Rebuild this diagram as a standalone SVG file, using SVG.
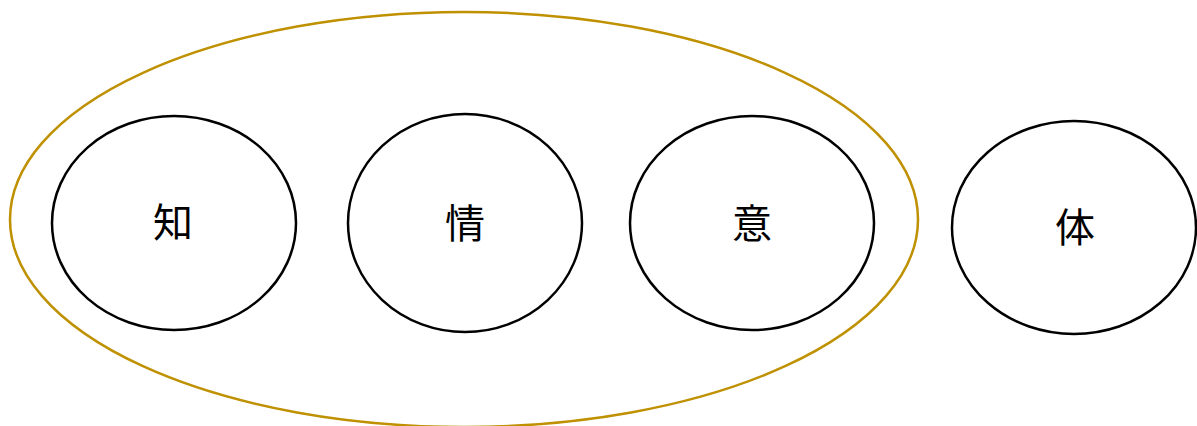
<svg xmlns="http://www.w3.org/2000/svg" width="1197" height="426" viewBox="0 0 1197 426">
<style>
.n{fill:#fff;stroke:#000;stroke-width:2.5}
.g{fill:none;stroke:#BF9000;stroke-width:2.5}
.t{font-family:"Noto Sans CJK JP","Noto Sans CJK SC",sans-serif;font-size:40px;text-anchor:middle;fill:#000}
</style>
<rect width="1197" height="426" fill="#fff"/>
<g id="group-outer"><ellipse class="g" cx="464" cy="219.5" rx="454" ry="207.5"/></g>
<g id="node-chi"><ellipse class="n" cx="174" cy="223" rx="122" ry="107"/><text class="t" x="173" y="237">知</text></g>
<g id="node-jo"><ellipse class="n" cx="465" cy="223" rx="117" ry="109"/><text class="t" x="465" y="238">情</text></g>
<g id="node-i"><ellipse class="n" cx="752" cy="223" rx="122" ry="107"/><text class="t" x="752" y="238">意</text></g>
<g id="node-tai"><ellipse class="n" cx="1074" cy="227.5" rx="122" ry="106.5"/><text class="t" x="1075" y="242">体</text></g>
<g id="connectors"></g>
</svg>
